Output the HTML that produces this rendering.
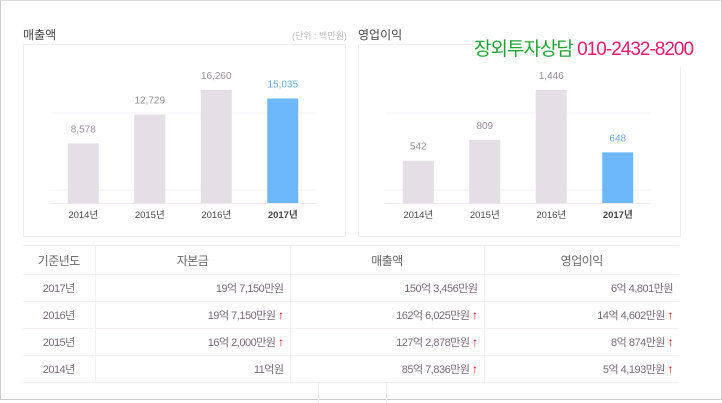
<!DOCTYPE html>
<html><head><meta charset="utf-8"><style>
body{margin:0;width:722px;height:402px;background:#fff;font-family:"Liberation Sans","Noto Sans CJK KR",sans-serif;overflow:hidden;position:relative}
.frame{position:absolute;left:0;top:0;width:720px;height:398px;border:1px solid #ccc;border-top-color:#ddd}
.t{position:absolute;font-size:12px;color:#444}
.panel{position:absolute;top:44px;width:321px;height:191px;border:1px solid #f0eef0}
table{position:absolute;left:23px;top:245px;width:656px;border-collapse:collapse;font-size:11px;color:#776a77;letter-spacing:-0.5px;table-layout:fixed}
td,th{border-bottom:1px solid #f3eff3;border-right:1px solid #f3eff3;height:26px;padding:0 6px;text-align:right;white-space:nowrap}
th{font-weight:normal;text-align:center;height:28px;font-size:12px;color:#666;border-top:1px solid #eee}
td:first-child{text-align:center}
tr>*:last-child{border-right:none}
.up{color:#e00;font-weight:bold;font-size:12px}
</style></head><body>
<div class="frame"></div>
<div class="t" style="left:23px;top:26px">매출액</div>
<div class="t" style="left:292px;top:29px;font-size:9px;color:#bbb">(단위 : 백만원)</div>
<div class="panel" style="left:23px"></div>
<div class="panel" style="left:358px"></div>
<div class="t" style="left:358px;top:26px">영업이익</div>
<div class="t" style="left:472px;top:34px;font-size:19px;color:#22a33a;letter-spacing:-1px;background:#fff;padding:0 2px 6px">장외투자상담 <span style="color:#e8196e">010-2432-8200</span></div>
<svg id="c" width="722" height="402" style="position:absolute;left:0;top:0"></svg>
<table>
<colgroup><col style="width:72px"><col style="width:195px"><col style="width:194px"><col style="width:195px"></colgroup>
<tr><th>기준년도</th><th>자본금</th><th>매출액</th><th>영업이익</th></tr>
<tr><td>2017년</td><td>19억 7,150만원</td><td>150억 3,456만원</td><td>6억 4,801만원</td></tr>
<tr><td>2016년</td><td>19억 7,150만원 <span class="up">↑</span></td><td>162억 6,025만원 <span class="up">↑</span></td><td>14억 4,602만원 <span class="up">↑</span></td></tr>
<tr><td>2015년</td><td>16억 2,000만원 <span class="up">↑</span></td><td>127억 2,878만원 <span class="up">↑</span></td><td>8억 874만원 <span class="up">↑</span></td></tr>
<tr><td>2014년</td><td>11억원</td><td>85억 7,836만원 <span class="up">↑</span></td><td>5억 4,193만원 <span class="up">↑</span></td></tr>
</table>
<div style="position:absolute;left:318px;top:382px;width:67px;height:20px;border:1px solid #eee;border-bottom:none"></div>
<script>
const years=["2014년","2015년","2016년","2017년"];
const revenue=[8578,12729,16260,15035];
const profit=[542,809,1446,648];
const revLabels=["8,578","12,729","16,260","15,035"];
const profLabels=["542","809","1,446","648"];
const svg=document.getElementById('c');const NS='http://www.w3.org/2000/svg';
function mk(t,a,txt){const e=document.createElementNS(NS,t);for(const k in a)e.setAttribute(k,a[k]);if(txt!=null)e.textContent=txt;svg.appendChild(e);return e;}
function chart(x0,x1,vals,labels,max,name){
 const base=203,h=113,slot=(x1-x0)/vals.length;
 const y=v=>base-v/max*h;
 [113,190].forEach(g=>{const l=mk('line',{x1:x0,x2:x1,y1:g,y2:g,stroke:'#f7f3f7'});});
 const ax=mk('line',{x1:x0,x2:x1,y1:base+0.5,y2:base+0.5,stroke:'#f0e8f0'});
 vals.forEach((v,i)=>{
  const cx=x0+slot*(i+0.5),last=i==vals.length-1;
  const r=mk('rect',{x:cx-15.5,y:y(v),width:31,height:base-y(v),fill:last?'#6cb8fb':'#e6dee6'});
  
  const t=mk('text',{x:cx,y:y(v)-11,'text-anchor':'middle','font-size':10,fill:last?'#6ba6f0':'#9a8a9a'},labels[i]);
  
  const xl=mk('text',{x:cx,y:218,'text-anchor':'middle','font-size':9.5,fill:'#444','font-weight':last?'bold':'normal'},years[i]);
  
 });
}
chart(50,316,revenue,revLabels,16260,'revenue');
chart(385,651,profit,profLabels,1446,'profit');
</script>
</body></html>
